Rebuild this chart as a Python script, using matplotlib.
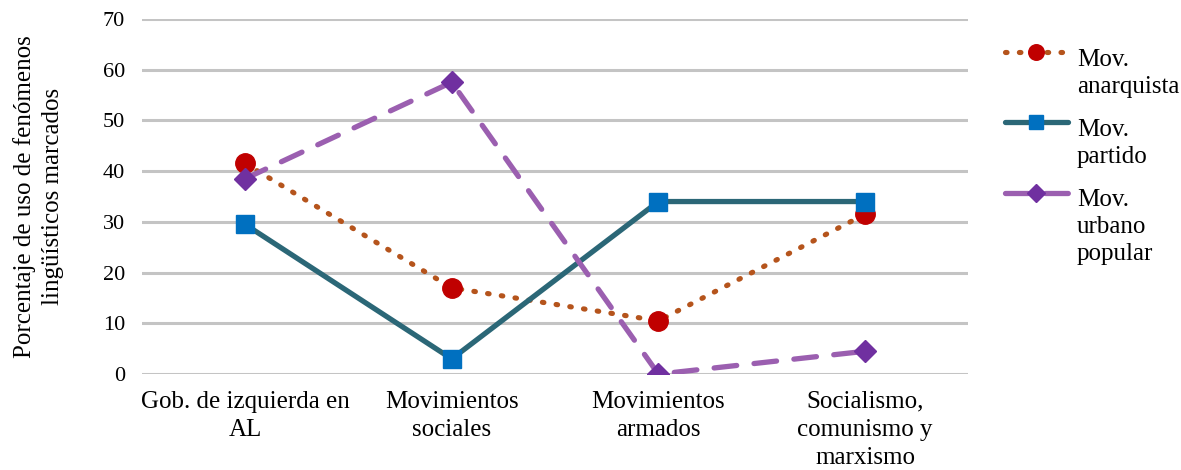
import matplotlib
matplotlib.use('Agg')
import matplotlib.pyplot as plt
from matplotlib.lines import Line2D

plt.rcParams['font.family'] = ['Liberation Serif', 'DejaVu Serif']

categories = ['Gob. de izquierda en\nAL', 'Movimientos\nsociales',
              'Movimientos\narmados', 'Socialismo,\ncomunismo y\nmarxismo']
anarquista = [41.5, 17, 10.5, 31.5]
partido = [29.5, 3, 34, 34]
urbano = [38.5, 57.5, 0, 4.5]
yticks = [0, 10, 20, 30, 40, 50, 60, 70]
legend_labels = ['Mov.\nanarquista', 'Mov.\npartido', 'Mov.\nurbano\npopular']

W, H = 1181, 470
fig = plt.figure(figsize=(W / 100, H / 100), dpi=100)
ax = fig.add_axes([0.120, 0.204, 0.700, 0.756])

x = list(range(len(categories)))

# grid lines
for t in yticks:
    ax.axhline(t, color='#c4c4c4', lw=2.2, zorder=0)

styles = [
    dict(color='#b5541c', lw=3.7, linestyle=(0, (0.3, 2.4)),
         dash_capstyle='round', marker='o', markersize=14,
         markerfacecolor='#c00000', markeredgecolor='#c00000'),
    dict(color='#2b6777', lw=3.8, solid_capstyle='round',
         marker='s', markersize=12.5, markerfacecolor='#0070c0',
         markeredgecolor='#0070c0'),
    dict(color='#9b5fb0', lw=3.8, linestyle=(0, (4.3, 3.3)),
         dash_capstyle='round', marker='D', markersize=11.5,
         markerfacecolor='#7030a0', markeredgecolor='#7030a0'),
]

for vals, st in zip([anarquista, partido, urbano], styles):
    ax.plot(x, vals, zorder=3, **st)

ax.set_xlim(-0.5, 3.5)
ax.set_ylim(0, 70)
ax.set_yticks(yticks)
ax.set_yticklabels([str(t) for t in yticks], fontsize=16)
ax.set_xticks(x)
ax.set_xticklabels(categories, fontsize=18, linespacing=1.35)
ax.tick_params(axis='both', length=0)
ax.tick_params(axis='y', pad=12)
ax.tick_params(axis='x', pad=12)
for s in ax.spines.values():
    s.set_visible(False)

ax.set_ylabel('Porcentaje de uso de fenómenos\nlingüísticos marcados',
              fontsize=18, linespacing=1.35, labelpad=28)

# legend drawn by hand so the handle sits next to the first text line
handle_y = [52, 122, 193]
text_top = [49, 119, 189]
for lab, st, hy, ty in zip(legend_labels, styles, handle_y, text_top):
    leg_st = dict(st)
    leg_st['markersize'] = st['markersize'] * 0.8
    fig.add_artist(Line2D([1005 / W, 1036 / W, 1068 / W], [1 - hy / H] * 3,
                          transform=fig.transFigure, markevery=[1], **leg_st))
    fig.text(1077 / W, 1 - ty / H, lab, fontsize=18, va='top', ha='left',
             linespacing=1.3)

fig.savefig('out.png', dpi=100)
